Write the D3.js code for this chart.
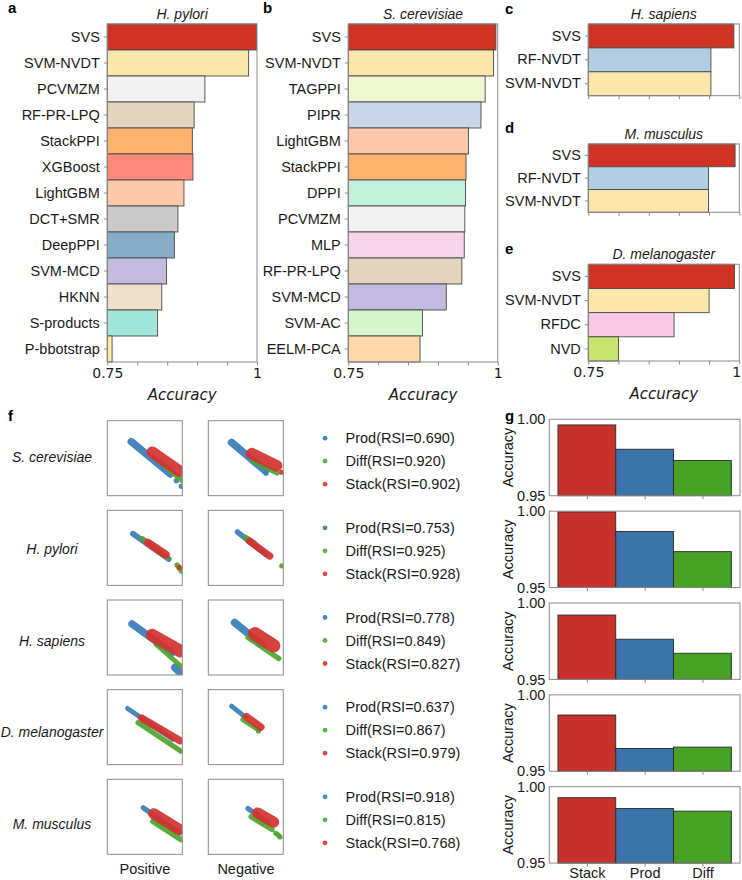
<!DOCTYPE html>
<html>
<head>
<meta charset="utf-8">
<script src="https://cdn.jsdelivr.net/npm/d3@7"></script>
<style>
  body { margin: 0; background: #fff; }
  svg text { font-family: "Liberation Sans", Arial, sans-serif; }
</style>
</head>
<body>
<div id="chart"></div>
<script>
// Data: panels a-e (accuracy of methods)
const pyloriMethods = ["SVS", "SVM-NVDT", "PCVMZM", "RF-PR-LPQ", "StackPPI", "XGBoost", "LightGBM", "DCT+SMR", "DeepPPI", "SVM-MCD", "HKNN", "S-products", "P-bbotstrap"];
const pyloriAcc = [0.999, 0.986, 0.913, 0.895, 0.892, 0.893, 0.878, 0.868, 0.862, 0.849, 0.841, 0.834, 0.758];
const cerevisiaeMethods = ["SVS", "SVM-NVDT", "TAGPPI", "PIPR", "LightGBM", "StackPPI", "DPPI", "PCVMZM", "MLP", "RF-PR-LPQ", "SVM-MCD", "SVM-AC", "EELM-PCA"];
const cerevisiaeAcc = [0.997, 0.993, 0.979, 0.972, 0.951, 0.947, 0.946, 0.945, 0.944, 0.940, 0.914, 0.874, 0.870];
const sapiensMethods = ["SVS", "RF-NVDT", "SVM-NVDT"];
const sapiensAcc = [0.991, 0.953, 0.953];
const musculusMethods = ["SVS", "RF-NVDT", "SVM-NVDT"];
const musculusAcc = [0.993, 0.949, 0.949];
const melanogasterMethods = ["SVS", "SVM-NVDT", "RFDC", "NVD"];
const melanogasterAcc = [0.992, 0.950, 0.892, 0.800];
const accTicks = [0.75, 0.8, 0.85, 0.9, 0.95, 1];

// Data: panel f (RSI + shape of each score cloud, in axis fractions)
const speciesNames = ["S. cerevisiae", "H. pylori", "H. sapiens", "D. melanogaster", "M. musculus"];
const rsiProd = ["0.690", "0.753", "0.778", "0.637", "0.918"];
const rsiDiff = ["0.920", "0.925", "0.849", "0.867", "0.815"];
const rsiStack = ["0.902", "0.928", "0.827", "0.979", "0.768"];

const prodPos = [
  { segs: [[[0.32, 0.72], [0.84, 0.29]]], spread: 0.1, dots: [[0.92, 0.2], [0.987, 0.125]] },
  { segs: [[[0.34, 0.69], [0.82, 0.35]]], spread: 0.075, dots: [] },
  { segs: [[[0.33, 0.68], [0.86, 0.3]], [[0.9, 0.1], [0.97, 0.03]]], spread: 0.1, dots: [] },
  { segs: [[[0.27, 0.75], [0.87, 0.34]]], spread: 0.065, dots: [] },
  { segs: [[[0.48, 0.62], [0.96, 0.29]]], spread: 0.07, dots: [] },
];
const diffPos = [
  { segs: [[[0.70, 0.46], [1.0, 0.2]]], spread: 0.07, dots: [] },
  { segs: [[[0.47, 0.62], [0.8, 0.37]], [[0.93, 0.27], [0.99, 0.19]]], spread: 0.07, dots: [] },
  { segs: [[[0.65, 0.41], [0.99, 0.11]]], spread: 0.065, dots: [] },
  { segs: [[[0.41, 0.56], [0.98, 0.18]]], spread: 0.07, dots: [] },
  { segs: [[[0.61, 0.44], [0.98, 0.2]]], spread: 0.08, dots: [] },
];
const stackPos = [
  { segs: [[[0.6, 0.58], [0.96, 0.33]]], spread: 0.155, dots: [] },
  { segs: [[[0.54, 0.57], [0.78, 0.41]]], spread: 0.105, dots: [[0.96, 0.24]] },
  { segs: [[[0.6, 0.53], [0.97, 0.32]]], spread: 0.17, dots: [] },
  { segs: [[[0.46, 0.62], [0.97, 0.32]]], spread: 0.1, dots: [] },
  { segs: [[[0.62, 0.54], [0.96, 0.33]]], spread: 0.15, dots: [] },
];
const prodNeg = [
  { segs: [[[0.31, 0.71], [0.76, 0.33]]], spread: 0.1, dots: [[0.77, 0.3]] },
  { segs: [[[0.39, 0.71], [0.77, 0.41]]], spread: 0.075, dots: [] },
  { segs: [[[0.35, 0.7], [0.72, 0.4]]], spread: 0.1, dots: [] },
  { segs: [[[0.31, 0.78], [0.5, 0.63]]], spread: 0.065, dots: [] },
  { segs: [[[0.53, 0.61], [0.8, 0.42]]], spread: 0.07, dots: [] },
];
const diffNeg = [
  { segs: [[[0.6, 0.46], [0.92, 0.3]]], spread: 0.065, dots: [] },
  { segs: [[[0.5, 0.64], [0.62, 0.56]]], spread: 0.07, dots: [[0.98, 0.26]] },
  { segs: [[[0.53, 0.5], [0.94, 0.22]]], spread: 0.07, dots: [] },
  { segs: [[[0.46, 0.6], [0.66, 0.47]]], spread: 0.065, dots: [[0.67, 0.45]] },
  { segs: [[[0.57, 0.5], [0.85, 0.33]]], spread: 0.07, dots: [[0.9, 0.28], [0.93, 0.26], [0.956, 0.232]] },
];
const stackNeg = [
  { segs: [[[0.58, 0.56], [0.91, 0.4]]], spread: 0.155, dots: [[0.978, 0.313]] },
  { segs: [[[0.55, 0.59], [0.82, 0.39]]], spread: 0.095, dots: [] },
  { segs: [[[0.62, 0.55], [0.87, 0.39]]], spread: 0.18, dots: [] },
  { segs: [[[0.51, 0.64], [0.7, 0.5]]], spread: 0.1, dots: [] },
  { segs: [[[0.66, 0.55], [0.87, 0.43]]], spread: 0.15, dots: [] },
];

// Data: panel g
const featureNames = ["Stack", "Prod", "Diff"];
const stackAcc = [0.9963, 0.9995, 0.9921, 0.9868, 0.9928];
const prodAcc = [0.9804, 0.9867, 0.9763, 0.9649, 0.9857];
const diffAcc = [0.9730, 0.9735, 0.9671, 0.9658, 0.9840];

// Styles
const methodColor = {
  "SVS": "#d03224", "SVM-NVDT": "#fbe6ab", "PCVMZM": "#f1f1f1", "RF-PR-LPQ": "#e3d4bd",
  "StackPPI": "#fdb26d", "XGBoost": "#fe8a7d", "LightGBM": "#fec9aa", "DCT+SMR": "#cacaca",
  "DeepPPI": "#85adc8", "SVM-MCD": "#c2bbdf", "HKNN": "#f0dfcb", "S-products": "#a1e4d8",
  "P-bbotstrap": "#f7ef9f", "TAGPPI": "#eef7cf", "PIPR": "#cbd5e8", "DPPI": "#c3f2dc",
  "MLP": "#f8d4ea", "SVM-AC": "#d6f5cb", "EELM-PCA": "#fed8a8", "RF-NVDT": "#b3cde3",
  "RFDC": "#f9c8e4", "NVD": "#c8e46e",
};
const cloudColor = { Prod: "#3b7cb8", Diff: "#4ea42f", Stack: "#d4322e" };
const legendColor = { Prod: "#4a87c0", Diff: "#5ab348", Stack: "#dd4a48" };
const featColor = { Stack: "#c8312b", Prod: "#3a74a8", Diff: "#46a124" };
const frameColor = "#8a8a8a";

const svg = d3.select("#chart").append("svg").attr("width", 742).attr("height", 880);

function panelLetter(t, x, y) {
  svg.append("text").attr("x", x).attr("y", y).attr("font-size", 15).attr("font-weight", "bold").text(t);
}

// Bar panels a-e
function barPanel({ methods, values, title, left, right, top, bottom, labels }) {
  const x = d3.scaleLinear().domain([0.75, 1]).range([left, right]);
  const y = d3.scaleBand().domain(methods).range([top, bottom]).padding(0);
  const g = svg.append("g");

  g.selectAll("rect.bar")
    .data(methods)
    .join("rect")
    .attr("class", "bar")
    .attr("x", x(0.75))
    .attr("y", (d) => y(d))
    .attr("width", (d, i) => x(values[i]) - x(0.75))
    .attr("height", y.bandwidth())
    .attr("fill", (d) => methodColor[d])
    .attr("stroke", "#4a4a4a")
    .attr("stroke-width", 0.9);

  g.append("rect")
    .attr("x", left).attr("y", top).attr("width", right - left).attr("height", bottom - top)
    .attr("fill", "none").attr("stroke", frameColor);

  const yAxis = g.append("g").attr("transform", `translate(${left},0)`)
    .call(d3.axisLeft(y).tickSize(3.5).tickPadding(4));
  yAxis.select(".domain").remove();
  yAxis.selectAll("line").attr("stroke", frameColor);
  yAxis.selectAll("text").attr("font-size", 14.5).attr("fill", "#1a1a1a")
    .style("font-family", '"Liberation Sans", Arial, sans-serif');

  const xAxis = g.append("g").attr("transform", `translate(0,${bottom})`)
    .call(d3.axisBottom(x).tickValues(accTicks).tickSize(3.5).tickPadding(3)
      .tickFormat((d) => (labels && (d === 0.75 || d === 1) ? d3.format("")(d) : "")));
  xAxis.select(".domain").remove();
  xAxis.selectAll("line").attr("stroke", frameColor);
  xAxis.selectAll("text").attr("font-size", 14).attr("fill", "#1a1a1a")
    .style("font-family", '"DejaVu Sans", sans-serif');
  // keep the "1" label inside the page on the right-most panel
  if (right > 700) xAxis.selectAll("text").filter((d) => d === 1).attr("dx", -3);

  svg.append("text")
    .attr("x", (left + right) / 2).attr("y", top - 5)
    .attr("text-anchor", "middle").attr("font-size", 14).attr("font-style", "italic")
    .attr("fill", "#1a1a1a").text(title);

  if (labels) {
    svg.append("text")
      .attr("x", (left + right) / 2).attr("y", bottom + 38)
      .attr("text-anchor", "middle").attr("font-size", 15).attr("font-style", "italic")
      .style("font-family", '"DejaVu Sans", sans-serif')
      .attr("fill", "#1a1a1a").text("Accuracy");
  }
}

barPanel({ methods: pyloriMethods, values: pyloriAcc, title: "H. pylori", left: 107.3, right: 257, top: 24, bottom: 362, labels: true });
barPanel({ methods: cerevisiaeMethods, values: cerevisiaeAcc, title: "S. cerevisiae", left: 348.3, right: 497.7, top: 24, bottom: 362, labels: true });
barPanel({ methods: sapiensMethods, values: sapiensAcc, title: "H. sapiens", left: 588.3, right: 739.3, top: 24, bottom: 95.7, labels: false });
barPanel({ methods: musculusMethods, values: musculusAcc, title: "M. musculus", left: 588.3, right: 739.3, top: 144, bottom: 212.3, labels: false });
barPanel({ methods: melanogasterMethods, values: melanogasterAcc, title: "D. melanogaster", left: 588.3, right: 739.3, top: 264.3, bottom: 361, labels: true });

panelLetter("a", 8, 13);
panelLetter("b", 263, 13);
panelLetter("c", 505, 14);
panelLetter("d", 505, 133);
panelLetter("e", 505, 254);
panelLetter("f", 8, 421);
panelLetter("g", 505, 421);

// Panel f: score clouds
const boxSize = 75;
const boxTop0 = 420.7;
const boxStep = 89.65;
const boxLefts = [107.3, 208.3];
const defs = svg.append("defs");
const line = d3.line();

function drawCloud(g, cloud, color, sx, sy) {
  const w = (sx(cloud.spread) - sx(0));
  cloud.segs.forEach((seg) => {
    g.append("path")
      .attr("d", line(seg.map((p) => [sx(p[0]), sy(p[1])])))
      .attr("fill", "none").attr("stroke", color).attr("stroke-width", w)
      .attr("stroke-linecap", "round").attr("stroke-opacity", 0.92);
  });
  g.selectAll(null).data(cloud.dots).join("circle")
    .attr("cx", (p) => sx(p[0])).attr("cy", (p) => sy(p[1])).attr("r", 2.6)
    .attr("fill", color).attr("fill-opacity", 0.92);
}

speciesNames.forEach((name, i) => {
  const top = boxTop0 + i * boxStep;
  const sides = [
    [prodPos[i], diffPos[i], stackPos[i]],
    [prodNeg[i], diffNeg[i], stackNeg[i]],
  ];
  sides.forEach((clouds, s) => {
    const left = boxLefts[s];
    const sx = d3.scaleLinear().domain([0, 1]).range([left, left + boxSize]);
    const sy = d3.scaleLinear().domain([0, 1]).range([top + boxSize, top]);
    const id = `clip-${i}-${s}`;
    defs.append("clipPath").attr("id", id).append("rect")
      .attr("x", left).attr("y", top).attr("width", boxSize).attr("height", boxSize);
    const g = svg.append("g").attr("clip-path", `url(#${id})`);
    drawCloud(g, clouds[0], cloudColor.Prod, sx, sy);
    drawCloud(g, clouds[1], cloudColor.Diff, sx, sy);
    drawCloud(g, clouds[2], cloudColor.Stack, sx, sy);
    svg.append("rect").attr("x", left).attr("y", top).attr("width", boxSize).attr("height", boxSize)
      .attr("fill", "none").attr("stroke", frameColor);
  });

  svg.append("text")
    .attr("x", 52).attr("y", top + boxSize / 2 + 4 + i * 2)
    .attr("text-anchor", "middle").attr("font-size", 14).attr("font-style", "italic")
    .attr("fill", "#1a1a1a").text(name);

  const legend = [
    ["Prod", rsiProd[i]],
    ["Diff", rsiDiff[i]],
    ["Stack", rsiStack[i]],
  ];
  legend.forEach(([key, rsi], k) => {
    const ly = top + boxSize / 2 - 20 + k * 23;
    svg.append("circle").attr("cx", 325).attr("cy", ly).attr("r", 2.4).attr("fill", legendColor[key]);
    svg.append("text").attr("x", 345.5).attr("y", ly + 5).attr("font-size", 14.5)
      .attr("fill", "#1a1a1a").text(`${key}(RSI=${rsi})`);
  });
});

svg.append("text").attr("x", 145).attr("y", 874).attr("text-anchor", "middle")
  .attr("font-size", 14.5).attr("fill", "#1a1a1a").text("Positive");
svg.append("text").attr("x", 246).attr("y", 874).attr("text-anchor", "middle")
  .attr("font-size", 14.5).attr("fill", "#1a1a1a").text("Negative");

// Panel g: feature accuracy bars
const gLeft = 549.3;
const gRight = 740;
const gTop0 = 419.3;
const gStep = 91.85;
const gHeight = 76.4;
const gx = d3.scaleLinear().domain([-0.65, 2.65]).range([gLeft, gRight]);

speciesNames.forEach((name, i) => {
  const top = gTop0 + i * gStep;
  const bottom = top + gHeight;
  const gy = d3.scaleLinear().domain([0.95, 1]).range([bottom, top]);
  const vals = [stackAcc[i], prodAcc[i], diffAcc[i]];
  const g = svg.append("g");

  g.selectAll("rect.fbar").data(featureNames).join("rect")
    .attr("class", "fbar")
    .attr("x", (d, k) => gx(k - 0.5))
    .attr("y", (d, k) => gy(vals[k]))
    .attr("width", gx(1) - gx(0))
    .attr("height", (d, k) => gy(0.95) - gy(vals[k]))
    .attr("fill", (d) => featColor[d])
    .attr("stroke", "#2a2a2a").attr("stroke-width", 0.9);

  g.append("rect").attr("x", gLeft).attr("y", top).attr("width", gRight - gLeft).attr("height", gHeight)
    .attr("fill", "none").attr("stroke", frameColor);

  const ya = g.append("g").attr("transform", `translate(${gLeft},0)`)
    .call(d3.axisLeft(gy).tickValues([0.95, 1]).tickFormat(d3.format(".2f")).tickSize(0).tickPadding(4));
  ya.select(".domain").remove();
  ya.selectAll("text").attr("font-size", 14.5).attr("fill", "#1a1a1a")
    .style("font-family", '"Liberation Sans", Arial, sans-serif');

  const xa = g.append("g").attr("transform", `translate(0,${bottom})`)
    .call(d3.axisBottom(gx).tickValues([0, 1, 2]).tickSize(3.5).tickPadding(1)
      .tickFormat((d) => (i === speciesNames.length - 1 ? featureNames[d] : "")));
  xa.select(".domain").remove();
  xa.selectAll("line").attr("stroke", frameColor);
  xa.selectAll("text").attr("font-size", 14.5).attr("fill", "#1a1a1a")
    .style("font-family", '"Liberation Sans", Arial, sans-serif');

  svg.append("text")
    .attr("transform", `translate(513,${(top + bottom) / 2}) rotate(-90)`)
    .attr("text-anchor", "middle").attr("font-size", 14.5).attr("fill", "#1a1a1a")
    .text("Accuracy");
});
</script>
</body>
</html>
